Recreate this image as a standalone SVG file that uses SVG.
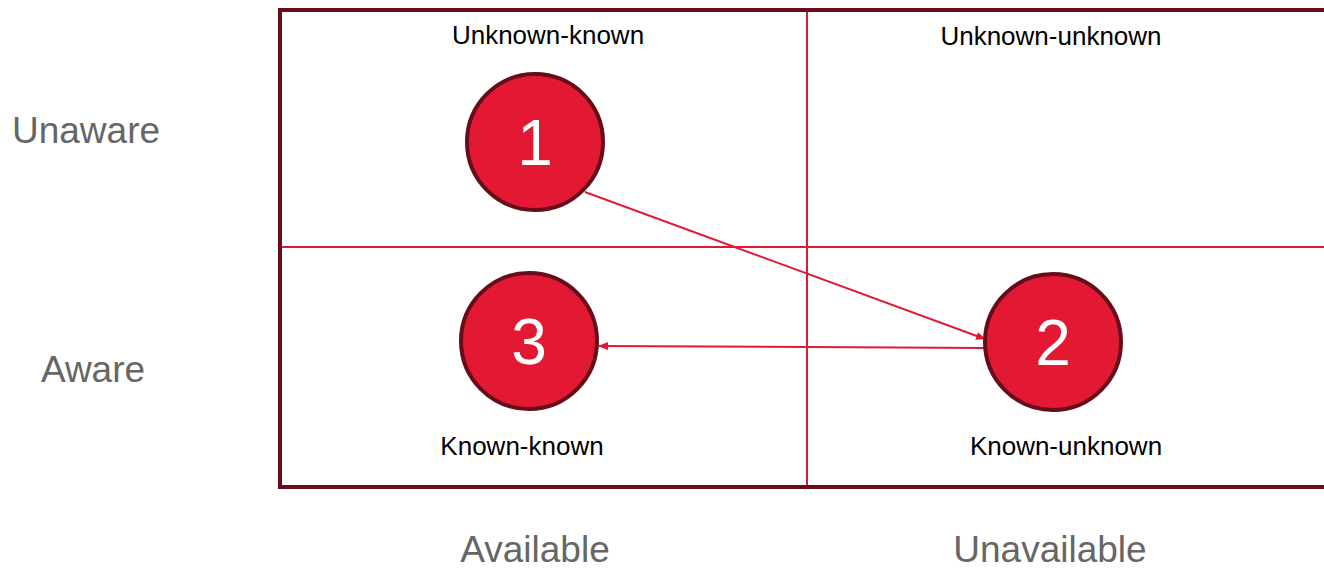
<svg xmlns="http://www.w3.org/2000/svg" width="1324" height="568" viewBox="0 0 1324 568">
<style>
.lbl{font-family:"Liberation Sans",Arial,sans-serif;font-size:26px;fill:#000;text-anchor:middle}
.axis{font-family:"Liberation Sans",Arial,sans-serif;font-size:37px;fill:#666;text-anchor:middle}
.num{font-family:"Liberation Sans",Arial,sans-serif;font-size:64px;fill:#fff;text-anchor:middle}
.node{fill:#E31933;stroke:#650D1B;stroke-width:4}
.grid{stroke:#E31933;stroke-width:2;fill:none}
.conn{stroke:#E31933;stroke-width:2;fill:none;marker-end:url(#ah)}
</style>
<defs>
<marker id="ah" markerWidth="10" markerHeight="8" refX="9" refY="4" orient="auto" markerUnits="userSpaceOnUse">
<path d="M0,0 L10,4 L0,8 Z" fill="#E31933"/>
</marker>
</defs>
<rect width="1324" height="568" fill="#fff"/>
<g id="frame">
<line class="grid" x1="282" y1="247" x2="1324" y2="247"/>
<line class="grid" x1="807" y1="12" x2="807" y2="486"/>
<path d="M1326,10 H280 V487 H1326" fill="none" stroke="#650D1B" stroke-width="4"/>
</g>
<g id="axis-labels">
<text class="axis" x="86" y="143">Unaware</text>
<text class="axis" x="93" y="382">Aware</text>
<text class="axis" x="535" y="562">Available</text>
<text class="axis" x="1050" y="562">Unavailable</text>
</g>
<g id="quadrant-labels">
<text class="lbl" x="548" y="44">Unknown-known</text>
<text class="lbl" x="1051" y="45">Unknown-unknown</text>
<text class="lbl" x="522" y="455">Known-known</text>
<text class="lbl" x="1066" y="455">Known-unknown</text>
</g>
<g id="connectors">
<line class="conn" x1="585" y1="192" x2="985" y2="339"/>
<line class="conn" x1="986" y1="348" x2="599" y2="346"/>
</g>
<g id="node1">
<circle class="node" cx="535" cy="142" r="68"/>
<text class="num" x="535" y="165">1</text>
</g>
<g id="node2">
<circle class="node" cx="1053" cy="342" r="68"/>
<text class="num" x="1053" y="365">2</text>
</g>
<g id="node3">
<circle class="node" cx="529" cy="341" r="68"/>
<text class="num" x="529" y="364">3</text>
</g>
</svg>
